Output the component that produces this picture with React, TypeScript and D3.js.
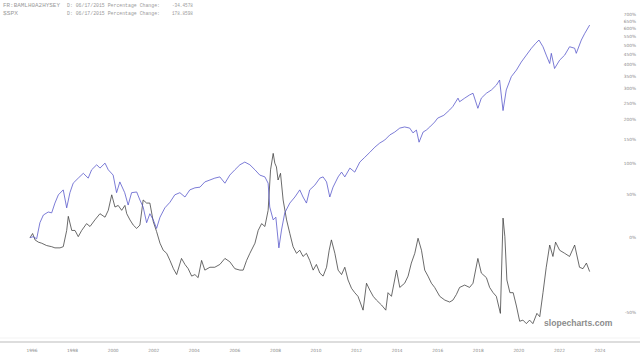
import React from "react";
import * as d3 from "d3";

const W = 640;
const H = 357;

const xTickYears = [1996, 1998, 2000, 2002, 2004, 2006, 2008, 2010, 2012, 2014, 2016, 2018, 2020, 2022, 2024];
const yTickPcts = [700, 650, 600, 550, 500, 450, 400, 350, 300, 250, 200, 150, 100, 50, 0, -50];

const seriesNames = ["FR:BAMLH0A2HYSEY", "$SPX"];
const seriesDates = ["D: 06/17/2015", "D: 06/17/2015"];
const seriesChanges = ["-34.4578", "178.8598"];

// S&P 500 percentage change (decimal year, %)
const spxYears = [
  1995.9, 1996.06, 1996.23, 1996.39, 1996.56, 1996.8, 1996.97, 1997.13, 1997.3, 1997.54, 1997.71, 1997.87,
  1998.03, 1998.28, 1998.53, 1998.77, 1998.94, 1999.19, 1999.35, 1999.6, 1999.76, 2000.0, 2000.17, 2000.33,
  2000.57, 2000.74, 2000.91, 2001.16, 2001.32, 2001.48, 2001.65, 2001.81, 2001.98, 2002.14, 2002.31, 2002.55,
  2002.8, 2003.04, 2003.29, 2003.54, 2003.78, 2004.03, 2004.28, 2004.52, 2004.77, 2005.01, 2005.26, 2005.51,
  2005.75, 2006.0, 2006.25, 2006.49, 2006.74, 2006.99, 2007.23, 2007.48, 2007.64, 2007.72, 2007.89, 2008.02,
  2008.17, 2008.3, 2008.46, 2008.71, 2008.96, 2009.2, 2009.36, 2009.53, 2009.69, 2009.94, 2010.19, 2010.35,
  2010.52, 2010.68, 2010.84, 2011.09, 2011.26, 2011.42, 2011.67, 2011.91, 2012.16, 2012.4, 2012.65, 2012.9,
  2013.14, 2013.39, 2013.64, 2013.88, 2014.13, 2014.37, 2014.62, 2014.78, 2014.95, 2015.08, 2015.28, 2015.44,
  2015.61, 2015.85, 2016.0, 2016.3, 2016.59, 2016.75, 2017.0, 2017.08, 2017.33, 2017.57, 2017.74, 2017.98,
  2018.15, 2018.4, 2018.65, 2018.89, 2019.05, 2019.22, 2019.38, 2019.63, 2019.88, 2020.12, 2020.37, 2020.62,
  2020.83, 2020.99, 2021.19, 2021.35, 2021.52, 2021.6, 2021.76, 2022.01, 2022.26, 2022.5, 2022.75, 2022.83,
  2023.08, 2023.24, 2023.49,
];
const spxValues = [
  0, 1, -1, 15, 23.5, 27, 26, 38, 49, 56, 32, 52,
  66, 74, 82, 74, 88, 97, 91, 100, 88, 79, 52, 68,
  52, 35.5, 52, 53, 42, 33, 15, 25, 18, 9, 21, 32,
  39, 49, 52, 46, 56, 59, 60, 68, 71, 74, 76, 66,
  79, 88, 97, 102, 97, 88, 79, 76, 66, 33, 18, 21,
  -9, 7.4, 26, 38, 46, 56, 46, 38, 56, 63, 74, 76,
  68, 46, 60, 76, 84, 76, 91, 84, 102, 111, 121, 132,
  141, 148, 160, 167, 177, 180, 177, 165, 172, 143, 167, 172,
  180, 193, 204, 212, 228, 239, 266, 254, 266, 277, 283, 233,
  266, 283, 295, 313, 333, 226, 295, 347, 375, 412, 446, 482,
  509, 528, 490, 446, 405, 455, 382, 421, 446, 490, 482, 455,
  528, 566, 622,
];

// High-yield effective yield percentage change (decimal year, %)
const hyYears = [
  1995.9, 1996.03, 1996.15, 1996.31, 1996.48, 1996.72, 1996.97, 1997.13, 1997.38, 1997.54, 1997.71, 1997.79,
  1997.96, 1998.12, 1998.28, 1998.45, 1998.69, 1998.86, 1999.1, 1999.35, 1999.6, 1999.76, 1999.93, 2000.09,
  2000.25, 2000.42, 2000.58, 2000.67, 2000.83, 2000.99, 2001.16, 2001.32, 2001.48, 2001.65, 2001.81, 2001.98,
  2002.14, 2002.31, 2002.47, 2002.64, 2002.8, 2002.97, 2003.13, 2003.37, 2003.54, 2003.7, 2003.87, 2004.03,
  2004.19, 2004.36, 2004.52, 2004.77, 2005.01, 2005.26, 2005.51, 2005.75, 2006.0, 2006.25, 2006.41, 2006.58,
  2006.74, 2006.99, 2007.15, 2007.32, 2007.48, 2007.64, 2007.76, 2007.89, 2007.97, 2008.05, 2008.13, 2008.25,
  2008.38, 2008.55, 2008.71, 2008.87, 2009.04, 2009.2, 2009.36, 2009.53, 2009.69, 2009.86, 2010.02, 2010.19,
  2010.35, 2010.52, 2010.65, 2010.76, 2010.93, 2011.09, 2011.26, 2011.42, 2011.58, 2011.75, 2011.91, 2012.07,
  2012.32, 2012.49, 2012.65, 2012.82, 2012.98, 2013.23, 2013.44, 2013.55, 2013.72, 2013.97, 2014.13, 2014.37,
  2014.54, 2014.7, 2014.87, 2015.03, 2015.2, 2015.36, 2015.52, 2015.69, 2015.85, 2016.1, 2016.35, 2016.59,
  2016.75, 2016.92, 2017.08, 2017.33, 2017.57, 2017.74, 2017.98, 2018.15, 2018.4, 2018.56, 2018.73, 2018.89,
  2019.09, 2019.22, 2019.31, 2019.41, 2019.56, 2019.72, 2019.88, 2020.04, 2020.2, 2020.37, 2020.53, 2020.69,
  2020.89, 2021.03, 2021.19, 2021.35, 2021.52, 2021.68, 2021.81, 2022.01, 2022.26, 2022.5, 2022.75, 2022.99,
  2023.16, 2023.33, 2023.49,
];
const hyValues = [
  0, 4, -2, -4, -5, -7, -8, -9, -9, -8, 7, 22,
  7, 7, 1, 7, 14, 11, 18, 25, 21, 29, 49, 33,
  35, 29, 35, 25, 18, 12.5, 9, 12.5, 42, 38, 38, 16,
  6, -5, -11, -13.5, -19, -25, -29, -17.5, -22, -25, -30, -29,
  -31, -19, -26, -24, -24, -22, -17.5, -20, -25, -26, -26, -19,
  -13.5, -5, 7, 14, 11, 29, 88, 119, 100, 93, 71, 82,
  42, 18, 4, -8, -13.5, -11, -16, -13.5, -19, -26, -22, -28,
  -30, -24, -11, -2, -13.5, -26, -29, -24, -32.5, -37.5, -40, -42,
  -49, -34.5, -38.5, -42, -44, -46.5, -49, -40, -42, -26, -37, -34.5,
  -30, -21, -13.5, -0.5, -11, -26, -30, -34.5, -37, -42, -44, -45,
  -44, -41, -37, -35.6, -37, -34.5, -17.5, -28, -31, -37, -40, -42,
  -50.5, 20, 1, -32.5, -40, -40, -47, -54, -53.5, -55, -53.5, -55,
  -50.5, -52, -40, -24, -6.6, -16, -4, -11, -13.5, -16, -6.6, -24,
  -25, -21, -27,
];

const x = d3.scaleLinear().domain([1996, 2024]).range([32, 600]);
const y = d3.scaleLog().domain([0.5, 8]).range([312.3, 14.0]);

const toPoints = (years: number[], vals: number[]) =>
  years.map((yr, i) => ({ t: yr, r: 1 + vals[i] / 100 }));

const line = d3
  .line<{ t: number; r: number }>()
  .x((d) => x(d.t))
  .y((d) => y(d.r));

const nameWidths = [57, 15];

export default function App() {
  const spx = toPoints(spxYears, spxValues);
  const hy = toPoints(hyYears, hyValues);
  return (
    <svg
      width={W}
      height={H}
      style={{ position: "absolute", left: 0, top: 0, background: "#fff" }}
    >
      <rect x={0} y={0} width={W} height={H} fill="#fff" />
      <path d={line(hy) || ""} fill="none" stroke="#3a3a3a" strokeWidth={0.75} />
      <path d={line(spx) || ""} fill="none" stroke="#5050c8" strokeWidth={0.75} />

      {seriesNames.map((n, i) => (
        <g key={n} fontFamily="Liberation Mono, monospace" fontSize={5.4} fill="#9a9a9a">
          <text x={3} y={7 + i * 7.5} textLength={nameWidths[i]} lengthAdjust="spacingAndGlyphs">{n}</text>
          <text x={67} y={7 + i * 7.5} textLength={93} lengthAdjust="spacingAndGlyphs">
            {seriesDates[i] + " Percentage Change:"}
          </text>
          <text x={172} y={7 + i * 7.5} textLength={21} lengthAdjust="spacingAndGlyphs">{seriesChanges[i]}</text>
        </g>
      ))}

      {yTickPcts.map((p) => (
        <text
          key={p}
          x={636}
          y={y(1 + p / 100) + 1.6}
          textAnchor="end"
          fontFamily="DejaVu Sans, sans-serif"
          fontSize={4.3}
          fill="#8a8a8a"
        >
          {p + "%"}
        </text>
      ))}

      <line x1={0} x2={W} y1={338} y2={338} stroke="#f0f0f0" strokeWidth={0.8} />
      <line x1={0} x2={W} y1={342} y2={342} stroke="#d2d2d2" strokeWidth={1.4} />

      {xTickYears.map((yr) => (
        <text
          key={yr}
          x={x(yr)}
          y={351.5}
          textAnchor="middle"
          fontFamily="DejaVu Sans, sans-serif"
          fontSize={4.3}
          fill="#8a8a8a"
        >
          {yr}
        </text>
      ))}

      <text
        x={544}
        y={326}
        fontFamily="Liberation Sans, Arial, sans-serif"
        fontWeight="bold"
        fontSize={8.6}
        fill="#8c8c8c"
      >
        slopecharts.com
      </text>
    </svg>
  );
}
